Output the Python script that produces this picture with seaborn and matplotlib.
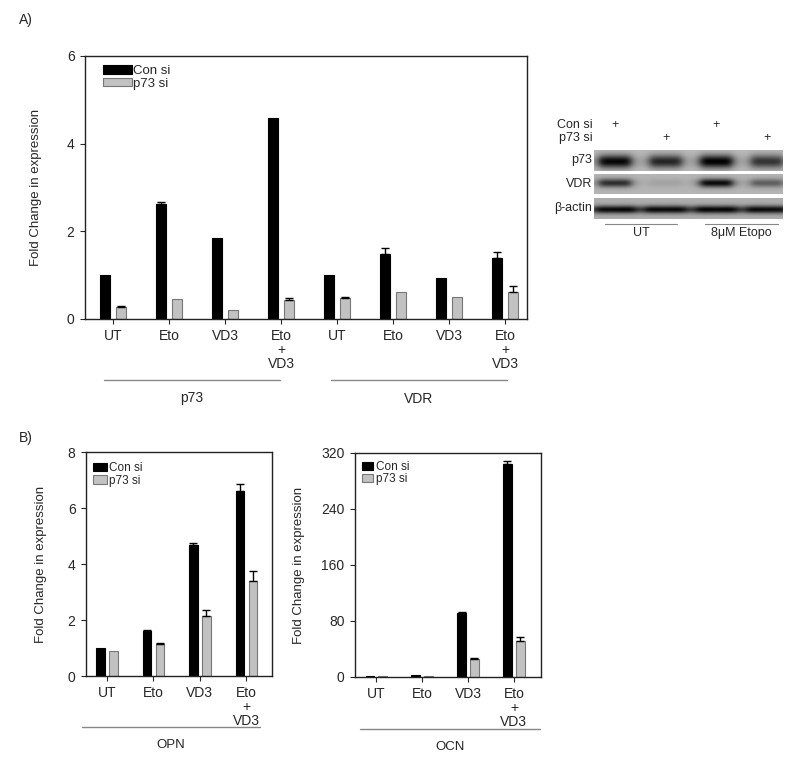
import numpy as np
import pandas as pd
import matplotlib
matplotlib.use("Agg")
import matplotlib.pyplot as plt
from matplotlib.patches import Patch
from matplotlib.lines import Line2D
import seaborn as sns

sns.set_style("ticks")
plt.rcParams['font.family'] = ['Liberation Sans', 'DejaVu Sans']

treatments = ["UT", "Eto", "VD3", "Eto\n+\nVD3"]
sirna = ["Con si", "p73 si"]
colors = {"Con si": "#000000", "p73 si": "#c2c2c2"}

# panel A: p73 and VDR transcripts
a_groups = ["p73", "VDR"]
a_p73_con = [1.0, 2.63, 1.84, 4.58]
a_p73_con_err = [0.0, 0.03, 0.0, 0.0]
a_p73_kd = [0.28, 0.46, 0.20, 0.43]
a_p73_kd_err = [0.01, 0.0, 0.0, 0.04]
a_vdr_con = [1.0, 1.48, 0.93, 1.40]
a_vdr_con_err = [0.0, 0.13, 0.0, 0.13]
a_vdr_kd = [0.49, 0.62, 0.50, 0.62]
a_vdr_kd_err = [0.01, 0.0, 0.0, 0.13]

# panel B: OPN and OCN
opn_con = [1.0, 1.61, 4.67, 6.61]
opn_con_err = [0.0, 0.05, 0.07, 0.26]
opn_kd = [0.91, 1.16, 2.15, 3.40]
opn_kd_err = [0.0, 0.03, 0.22, 0.35]

ocn_con = [1.0, 3.5, 92.0, 305.0]
ocn_con_err = [0.0, 0.0, 1.5, 4.0]
ocn_kd = [0.8, 1.5, 26.0, 52.0]
ocn_kd_err = [0.0, 0.0, 0.8, 4.5]

# western blot
blot_rows = ["p73", "VDR", "β-actin"]
blot_con = ["+", "", "+", ""]
blot_kd = ["", "+", "", "+"]
band_p73 = [0.97, 0.80, 1.0, 0.72]
band_vdr = [0.75, 0.10, 0.95, 0.48]
band_actin = [0.95, 0.93, 0.95, 0.93]
blot_groups = ["UT", "8\u03bcM Etopo"]

W, H = 800, 767


def box(l, t, r, b):
    return [l / W, 1 - b / H, (r - l) / W, (b - t) / H]


def bar_panel(ax, keys, labels, con, con_err, kd, kd_err):
    n = len(keys)
    df = pd.DataFrame({
        "cond": keys * 2,
        "siRNA": ["Con si"] * n + ["p73 si"] * n,
        "value": con + kd,
    })
    sns.barplot(data=df, x="cond", y="value", hue="siRNA", order=keys,
                hue_order=sirna, palette=colors, width=0.56, gap=0.35,
                errorbar=None, linewidth=0.8, ax=ax, legend=False)
    for cont, ec in zip(ax.containers, ["#000000", "#777777"]):
        for bar in cont:
            bar.set_edgecolor(ec)
    for cont, errs in zip(ax.containers, [con_err, kd_err]):
        for bar, e in zip(cont, errs):
            if e > 0:
                ax.errorbar(bar.get_x() + bar.get_width() / 2, bar.get_height(),
                            yerr=[[0], [e]], fmt="none", ecolor="black",
                            elinewidth=1, capsize=3, capthick=1)
    ax.set_xticks(range(n))
    ax.set_xticklabels(labels, linespacing=1.0, fontsize=10)
    ax.set_xlabel("")
    ax.set_ylabel("Fold Change in expression", fontsize=9.5)
    for s in ax.spines.values():
        s.set_visible(True)
        s.set_color("#222222")
        s.set_linewidth(1)
    ax.tick_params(axis="both", direction="out", length=3.5, width=0.8,
                   labelsize=10, pad=4)
    handles = [Patch(facecolor=colors["Con si"], edgecolor="#000000", linewidth=0.8),
               Patch(facecolor=colors["p73 si"], edgecolor="#777777", linewidth=0.8)]
    return handles


fig = plt.figure(figsize=(8, 7.67), dpi=100)

# ---- A
axA = fig.add_axes(box(85, 56, 527, 319))
keysA = [g + " " + t for g in a_groups for t in treatments]
h = bar_panel(axA, keysA, treatments * 2,
              a_p73_con + a_vdr_con, a_p73_con_err + a_vdr_con_err,
              a_p73_kd + a_vdr_kd, a_p73_kd_err + a_vdr_kd_err)
axA.set_ylim(0, 6)
axA.set_yticks([0, 2, 4, 6])
axA.set_xlim(-0.5, 7.39)
axA.yaxis.set_label_coords(-0.097, 0.5)
axA.legend(h, sirna, loc="upper left", bbox_to_anchor=(0.041, 0.965),
           frameon=False, fontsize=9.5, handlelength=2.2, handleheight=0.6,
           handletextpad=0.1, labelspacing=0.05, borderpad=0, borderaxespad=0)

# ---- B left
axB1 = fig.add_axes(box(86, 452, 272, 676))
h = bar_panel(axB1, treatments, treatments, opn_con, opn_con_err,
              opn_kd, opn_kd_err)
axB1.set_ylim(0, 8)
axB1.set_yticks([0, 2, 4, 6, 8])
axB1.set_xlim(-0.45, 3.55)
axB1.yaxis.set_label_coords(-0.21, 0.5)
axB1.legend(h, sirna, loc="upper left", bbox_to_anchor=(0.035, 0.955),
            frameon=False, fontsize=8.5, handlelength=1.2, handleheight=0.7,
            handletextpad=0.2, labelspacing=0.05, borderpad=0, borderaxespad=0)

# ---- B right
axB2 = fig.add_axes(box(355, 453, 541, 677))
h = bar_panel(axB2, treatments, treatments, ocn_con, ocn_con_err,
              ocn_kd, ocn_kd_err)
axB2.set_ylim(0, 320)
axB2.set_yticks([0, 80, 160, 240, 320])
axB2.set_xlim(-0.46, 3.59)
axB2.yaxis.set_label_coords(-0.27, 0.5)
axB2.legend(h, sirna, loc="upper left", bbox_to_anchor=(0.035, 0.965),
            frameon=False, fontsize=8.5, handlelength=1.0, handleheight=0.7,
            handletextpad=0.2, labelspacing=0.05, borderpad=0, borderaxespad=0)


# group lines and labels under the bar panels
def group_mark(x0, x1, y_line, label, y_text, size=10):
    fig.add_artist(Line2D([x0 / W, x1 / W], [1 - y_line / H] * 2,
                          color="#888888", linewidth=1))
    fig.text((x0 + x1) / 2 / W, 1 - y_text / H, label, ha="center",
             va="center", fontsize=size)


group_mark(104, 280, 380, "p73", 398)
group_mark(331, 507, 380, "VDR", 399)
group_mark(82, 260, 727, "OPN", 745, 9.5)
group_mark(360, 540, 729, "OCN", 747, 9.5)

fig.text(19 / W, 1 - 20 / H, "A)", fontsize=10, va="center")
fig.text(19 / W, 1 - 438 / H, "B)", fontsize=10, va="center")

# ---- western blot
axW = fig.add_axes(box(530, 105, 800, 250))
axW.set_xlim(530, 800)
axW.set_ylim(250, 105)
axW.axis("off")
lane_x = [615 + 50.7 * i for i in range(4)]
bl, br = 594, 783
xs = np.arange(bl, br) + 0.5
rows = [  # top, bottom, band values, half width, band centre, band sigma, bg
    (150, 171, band_p73, 17, 0.55, 0.32, 0.27),
    (174, 194, band_vdr, 17, 0.45, 0.22, 0.29),
    (198, 219, band_actin, 23, 0.55, 0.19, 0.32),
]
for top, bot, vals, hw, yc, sy, bg in rows:
    ys = np.linspace(0, 1, 60)
    img = np.full((len(ys), len(xs)), bg)
    for lx, a in zip(lane_x, vals):
        px_ = 1 / (1 + ((xs - lx) / hw) ** 6)
        py_ = np.exp(-((ys - yc) / sy) ** 2)
        img += a * (1 - bg) * np.outer(py_, px_)
    img = np.clip(img, 0, 1)
    axW.imshow(img, cmap="gray_r", vmin=0, vmax=1, aspect="auto",
               extent=(bl, br, bot, top), interpolation="bilinear")
for (top, bot, *_), name in zip(rows, blot_rows):
    axW.text(592, (top + bot) / 2, name, ha="right", va="center", fontsize=9)
axW.text(593, 125, "Con si", ha="right", va="center", fontsize=9)
axW.text(593, 138, "p73 si", ha="right", va="center", fontsize=9)
for lx, c, k in zip(lane_x, blot_con, blot_kd):
    axW.text(lx, 125, c, ha="center", va="center", fontsize=9)
    axW.text(lx, 138, k, ha="center", va="center", fontsize=9)
for (x0, x1), g in zip([(605, 677), (705, 778)], blot_groups):
    axW.plot([x0, x1], [224, 224], color="#888888", linewidth=0.8)
    axW.text((x0 + x1) / 2, 233, g, ha="center", va="center", fontsize=9)

fig.savefig("out.png", dpi=100)
